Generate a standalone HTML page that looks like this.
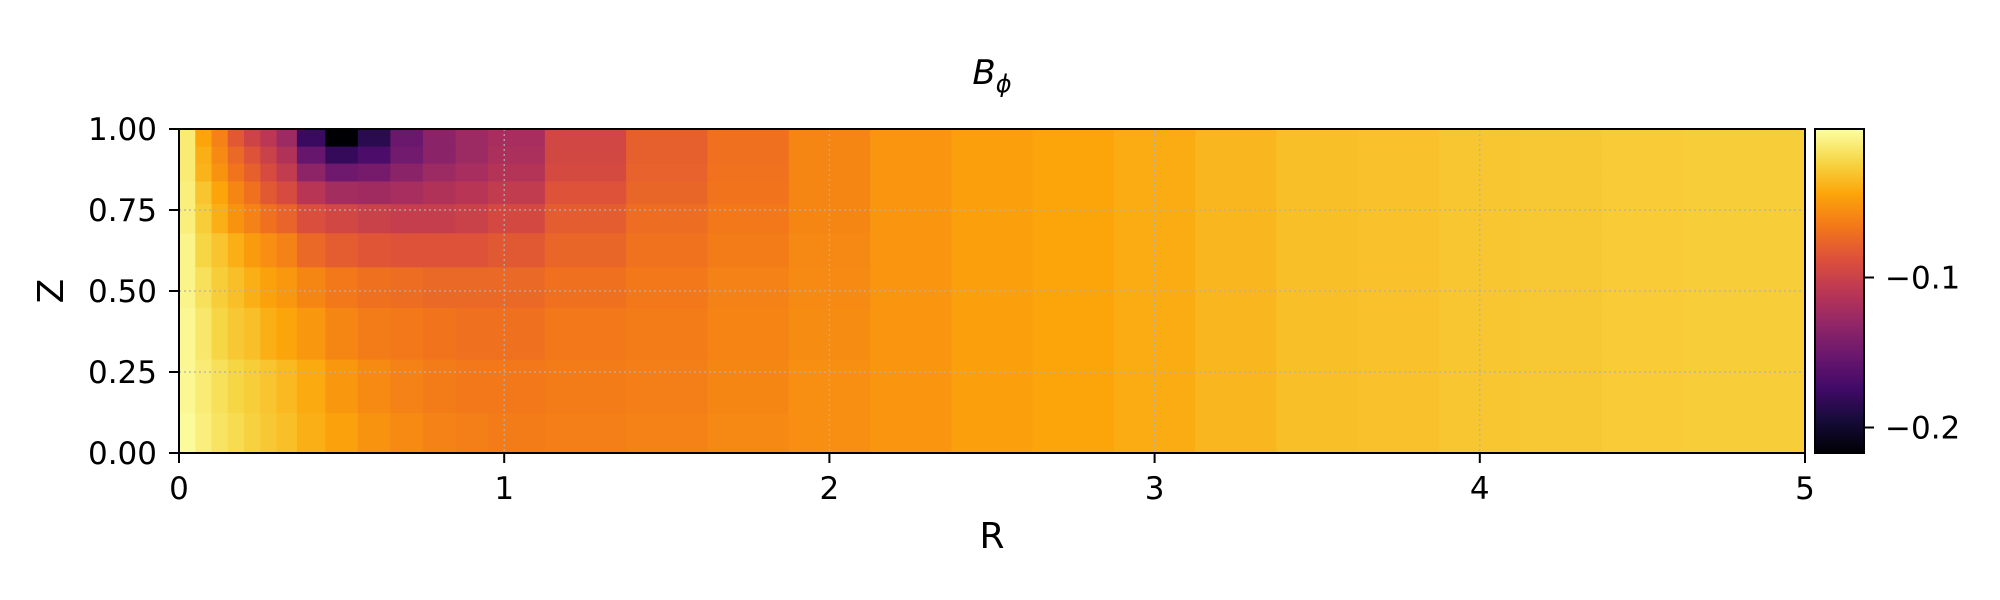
<!DOCTYPE html>
<html><head><meta charset="utf-8"><style>
html,body{margin:0;padding:0;background:#fff;}
svg{display:block;font-family:"DejaVu Sans","Liberation Sans",sans-serif;}
</style></head><body>
<svg id="chart" width="2000" height="600" viewBox="0 0 2000 600">
<defs>
<linearGradient id="cbgrad" x1="0" y1="1" x2="0" y2="0">
<stop offset="0" stop-color="#000004"/><stop offset="0.1" stop-color="#160b39"/><stop offset="0.2" stop-color="#420a68"/><stop offset="0.3" stop-color="#6a176e"/><stop offset="0.4" stop-color="#932667"/><stop offset="0.5" stop-color="#bc3754"/><stop offset="0.6" stop-color="#dd513a"/><stop offset="0.7" stop-color="#f37819"/><stop offset="0.8" stop-color="#fca50a"/><stop offset="0.9" stop-color="#f6d746"/><stop offset="1" stop-color="#fcffa4"/>
</linearGradient>
</defs>
<g id="cells"></g>
<g id="grid"></g>
<rect x="179" y="129" width="1626" height="324" fill="none" stroke="#000" stroke-width="2"/>
<g id="axes"></g>
<text x="992" y="84" text-anchor="middle" font-size="34" font-style="italic">B<tspan font-size="24" dy="8">ϕ</tspan></text>
<text x="992" y="548" text-anchor="middle" font-size="36">R</text>
<text x="0" y="0" text-anchor="middle" font-size="36" transform="translate(63,291) rotate(-90)">Z</text>
<rect x="1815" y="129" width="49" height="324" fill="url(#cbgrad)" stroke="#000" stroke-width="2"/>
<g id="cbaxis"></g>
</svg>
<script>
const rCenters=[0.025,0.075,0.125,0.175,0.225,0.275,0.325,0.4,0.5,0.6,0.7,0.8,0.9,1.0,1.25,1.5,1.75,2.0,2.25,2.5,2.75,3.0,3.25,3.5,3.75,4.0,4.25,4.5,4.75,4.95];
const zCenters=[0.05,0.2,0.38,0.52,0.63,0.73,0.81,0.87,0.92,0.975];
const bphi=[
[-0.003,-0.010,-0.016,-0.020,-0.025,-0.029,-0.033,-0.040,-0.046,-0.053,-0.057,-0.061,-0.063,-0.064,-0.063,-0.061,-0.058,-0.055,-0.052,-0.047,-0.044,-0.041,-0.037,-0.033,-0.032,-0.030,-0.029,-0.028,-0.027,-0.027],
[-0.005,-0.012,-0.018,-0.023,-0.027,-0.031,-0.036,-0.042,-0.051,-0.057,-0.061,-0.064,-0.066,-0.066,-0.064,-0.063,-0.059,-0.055,-0.052,-0.047,-0.044,-0.041,-0.037,-0.033,-0.032,-0.030,-0.029,-0.028,-0.027,-0.027],
[-0.005,-0.014,-0.023,-0.029,-0.033,-0.040,-0.044,-0.051,-0.059,-0.064,-0.066,-0.068,-0.070,-0.070,-0.066,-0.064,-0.060,-0.056,-0.052,-0.047,-0.044,-0.041,-0.037,-0.033,-0.032,-0.030,-0.029,-0.028,-0.027,-0.027],
[-0.007,-0.018,-0.027,-0.033,-0.040,-0.046,-0.051,-0.059,-0.066,-0.070,-0.072,-0.074,-0.074,-0.074,-0.070,-0.066,-0.061,-0.057,-0.052,-0.047,-0.044,-0.041,-0.037,-0.033,-0.032,-0.030,-0.029,-0.028,-0.027,-0.027],
[-0.007,-0.023,-0.031,-0.040,-0.049,-0.055,-0.061,-0.074,-0.081,-0.085,-0.087,-0.087,-0.087,-0.083,-0.076,-0.069,-0.064,-0.058,-0.052,-0.047,-0.044,-0.041,-0.037,-0.033,-0.032,-0.030,-0.029,-0.028,-0.027,-0.027],
[-0.010,-0.027,-0.040,-0.053,-0.061,-0.070,-0.077,-0.090,-0.096,-0.100,-0.103,-0.103,-0.100,-0.094,-0.081,-0.072,-0.066,-0.059,-0.052,-0.047,-0.044,-0.041,-0.037,-0.033,-0.032,-0.030,-0.029,-0.028,-0.027,-0.027],
[-0.010,-0.031,-0.044,-0.059,-0.070,-0.083,-0.092,-0.111,-0.122,-0.124,-0.120,-0.115,-0.111,-0.105,-0.087,-0.076,-0.068,-0.059,-0.052,-0.047,-0.044,-0.041,-0.037,-0.033,-0.032,-0.030,-0.029,-0.028,-0.027,-0.027],
[-0.012,-0.038,-0.053,-0.068,-0.079,-0.092,-0.105,-0.133,-0.150,-0.146,-0.135,-0.126,-0.120,-0.113,-0.093,-0.078,-0.069,-0.059,-0.052,-0.047,-0.044,-0.041,-0.037,-0.033,-0.032,-0.030,-0.029,-0.028,-0.027,-0.027],
[-0.012,-0.040,-0.057,-0.074,-0.087,-0.100,-0.115,-0.154,-0.180,-0.169,-0.148,-0.135,-0.126,-0.118,-0.095,-0.079,-0.070,-0.059,-0.052,-0.047,-0.044,-0.041,-0.037,-0.033,-0.032,-0.030,-0.029,-0.028,-0.027,-0.027],
[-0.012,-0.044,-0.061,-0.083,-0.098,-0.109,-0.126,-0.178,-0.217,-0.185,-0.152,-0.135,-0.126,-0.120,-0.096,-0.079,-0.070,-0.059,-0.052,-0.047,-0.044,-0.041,-0.037,-0.033,-0.032,-0.030,-0.029,-0.028,-0.027,-0.027]
];
const xTicks=[0,1,2,3,4,5];
const yTicks=[0,0.25,0.5,0.75,1.0];
const yTickLabels=["0.00","0.25","0.50","0.75","1.00"];
const cbTicks=[-0.1,-0.2];
const cbTickLabels=["\u22120.1","\u22120.2"];
const vmin=-0.217, vmax=-0.001;

const NS="http://www.w3.org/2000/svg";
const X0=179,X1=1805,Y0=453,Y1=129;
const xs=r=>X0+(r/5)*(X1-X0);
const ys=z=>Y0-(z/1)*(Y0-Y1);
const cs=v=>Y0-(v-vmin)/(vmax-vmin)*(Y0-Y1);
const stops=[[0,0,0,4],[0.1,22,11,57],[0.2,66,10,104],[0.3,106,23,110],[0.4,147,38,103],[0.5,188,55,84],[0.6,221,81,58],[0.7,243,120,25],[0.8,252,165,10],[0.9,246,215,70],[1,252,255,164]];
function cmap(v){let t=Math.max(0,Math.min(1,(v-vmin)/(vmax-vmin)));
 for(let i=1;i<stops.length;i++){if(t<=stops[i][0]){const a=stops[i-1],b=stops[i],f=(t-a[0])/(b[0]-a[0]);
  return `rgb(${Math.round(a[1]+f*(b[1]-a[1]))},${Math.round(a[2]+f*(b[2]-a[2]))},${Math.round(a[3]+f*(b[3]-a[3]))})`;}}
 return "rgb(252,255,164)";}
function edges(c,lo,hi){const e=[lo];for(let i=1;i<c.length;i++)e.push((c[i-1]+c[i])/2);e.push(hi);return e;}
const rE=edges(rCenters,0,5), zE=edges(zCenters,0,1);
const cells=document.getElementById('cells');
for(let j=0;j<zCenters.length;j++)for(let i=0;i<rCenters.length;i++){
 const el=document.createElementNS(NS,'rect');
 const x=xs(rE[i]),x2=xs(rE[i+1]),y=ys(zE[j+1]),y2=ys(zE[j]);
 el.setAttribute('x',x);el.setAttribute('y',y);
 el.setAttribute('width',x2-x+0.6);el.setAttribute('height',y2-y+0.6);
 el.setAttribute('fill',cmap(bphi[j][i]));
 
 
 cells.appendChild(el);}
const grid=document.getElementById('grid'),axes=document.getElementById('axes');
function line(p,x1,y1,x2,y2,st,w,dash){const l=document.createElementNS(NS,'line');
 l.setAttribute('x1',x1);l.setAttribute('y1',y1);l.setAttribute('x2',x2);l.setAttribute('y2',y2);
 l.setAttribute('stroke',st);l.setAttribute('stroke-width',w);if(dash)l.setAttribute('stroke-dasharray',dash);p.appendChild(l);return l;}
function txt(p,x,y,s,anchor){const t=document.createElementNS(NS,'text');t.setAttribute('x',x);t.setAttribute('y',y);
 t.setAttribute('text-anchor',anchor);t.setAttribute('font-size','31');t.textContent=s;p.appendChild(t);return t;}
xTicks.forEach(v=>{const x=xs(v);
 if(v>0&&v<5){const g=line(grid,x,Y1,x,Y0,'#b0b0b0',1.2,'2,3');}
 const tk=line(axes,x,Y0,x,Y0+10,'#000',2);
 const t=txt(axes,x,499,String(v),'middle');});
yTicks.forEach((v,k)=>{const y=ys(v);
 if(v>0&&v<1){const g=line(grid,X0,y,X1,y,'#b0b0b0',1.2,'2,3');}
 const tk=line(axes,X0-10,y,X0,y,'#000',2);
 const t=txt(axes,157,y+11,yTickLabels[k],'end');});
const cb=document.getElementById('cbaxis');
cbTicks.forEach((v,k)=>{const y=cs(v);
 const tk=line(cb,1864,y,1874,y,'#000',2);
 const t=txt(cb,1885,y+11,cbTickLabels[k],'start');});
</script>
</body></html>
